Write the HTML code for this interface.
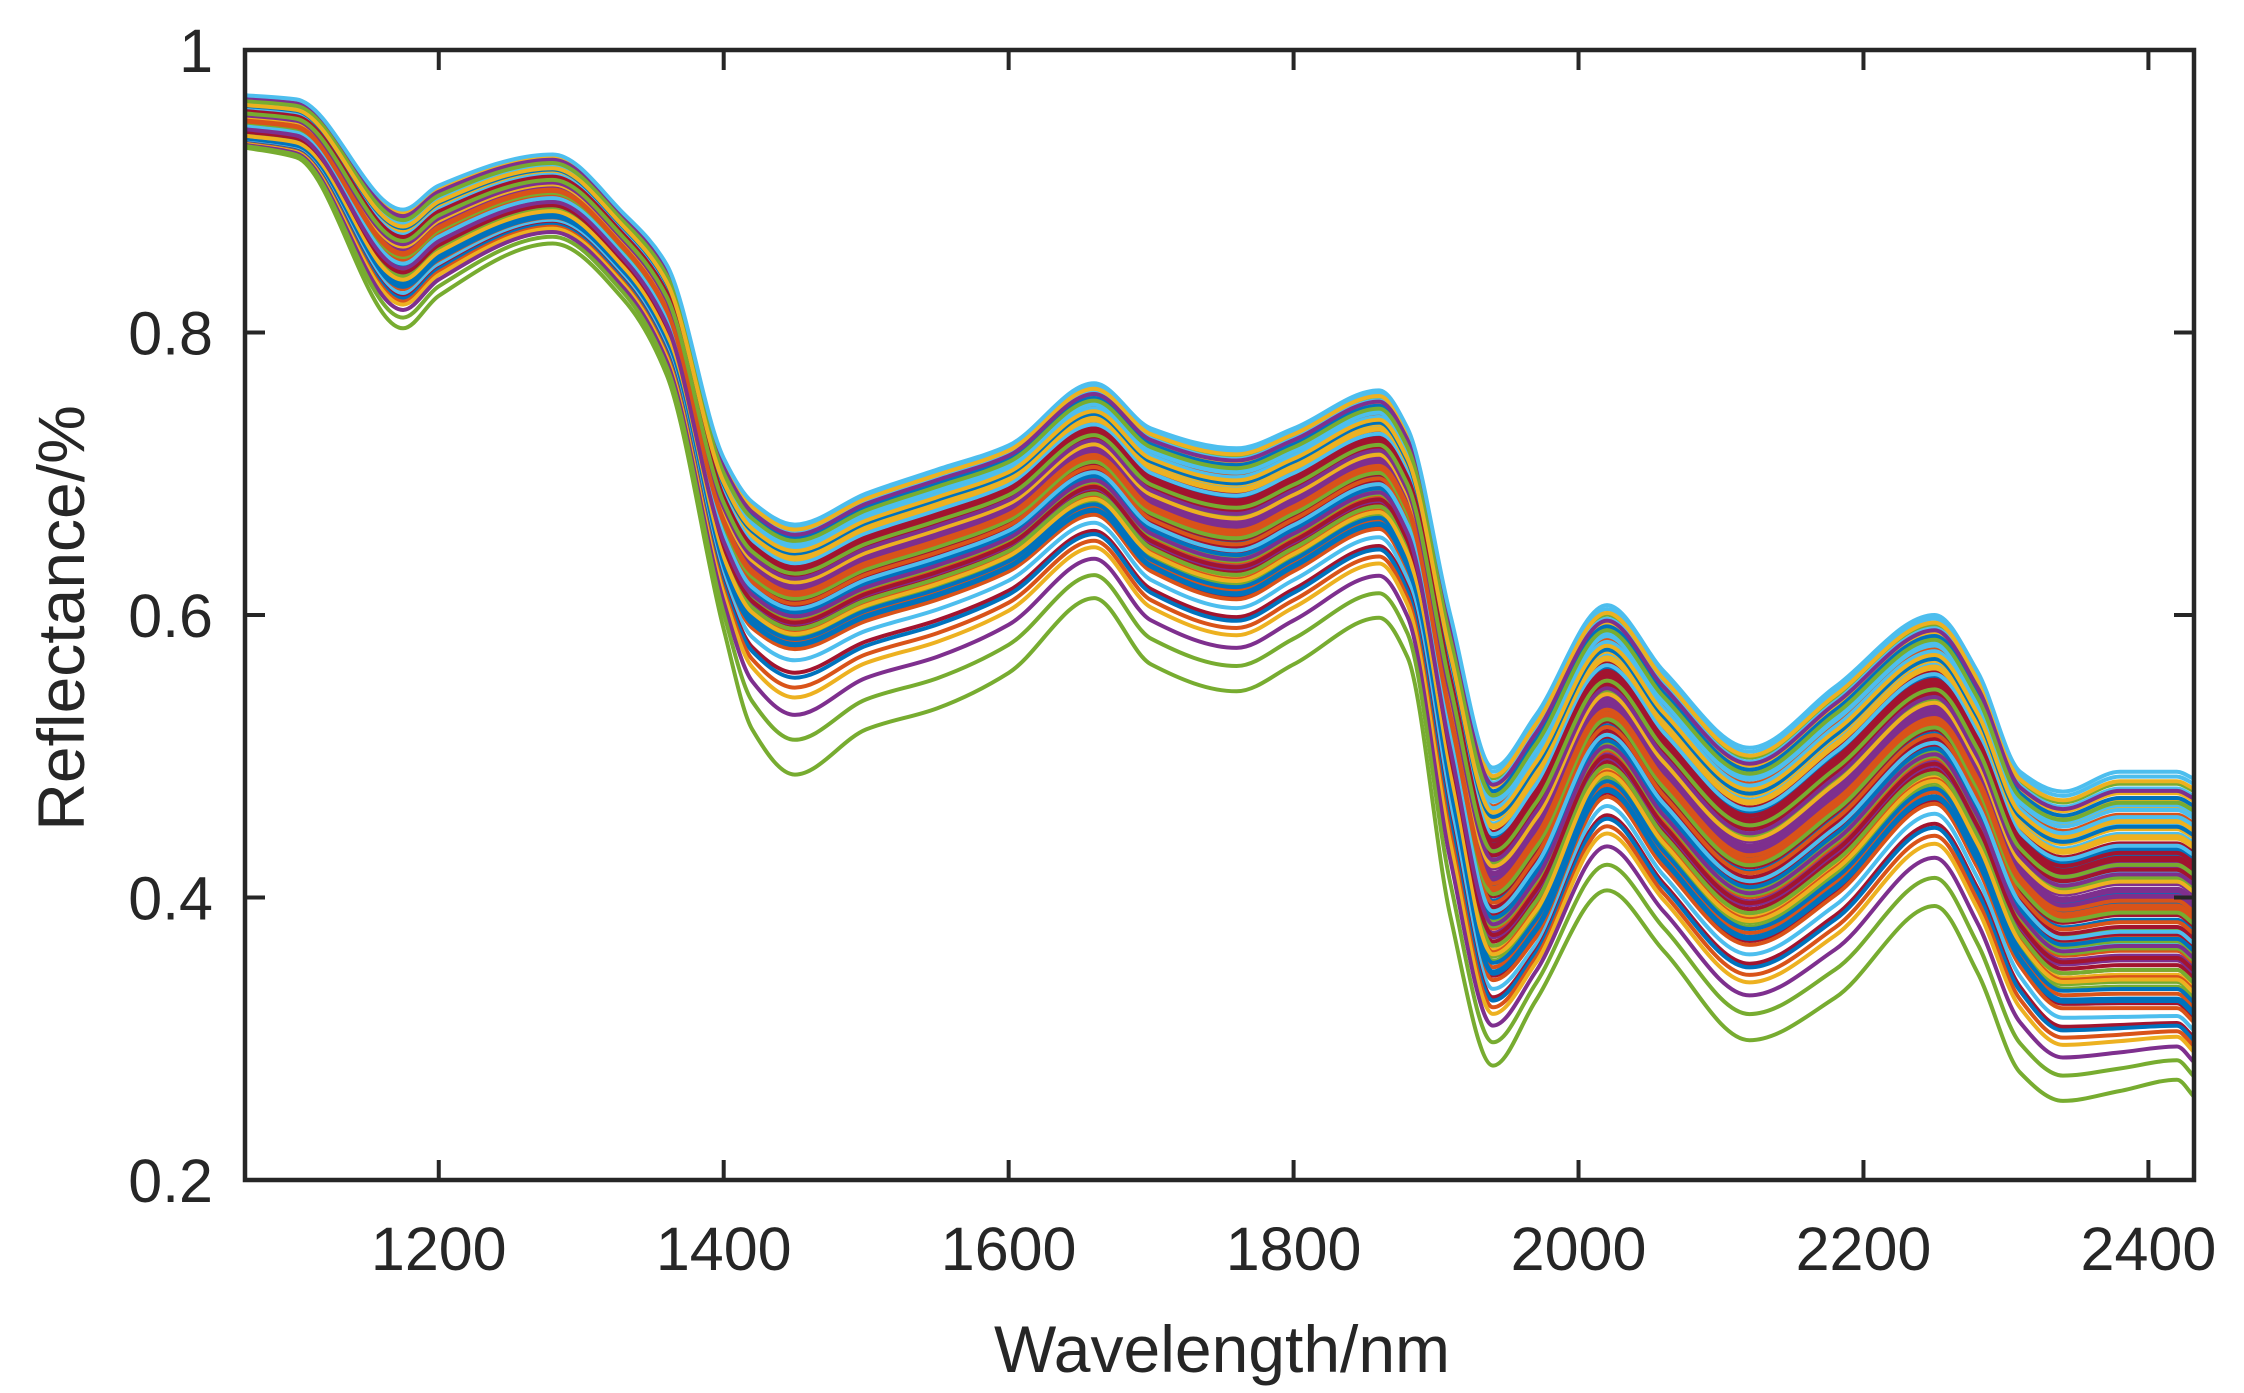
<!DOCTYPE html>
<html><head><meta charset="utf-8"><style>
html,body{margin:0;padding:0;background:#fff;}
svg{display:block;font-family:"Liberation Sans",Arial,sans-serif;}
</style></head><body>
<svg id="chart" width="2244" height="1393" viewBox="0 0 2244 1393">
<rect x="0" y="0" width="2244" height="1393" fill="#fff"/>
<g id="series"></g>
<g id="axes"></g>
<text x="1222" y="1372" font-size="66" fill="#262626" text-anchor="middle">Wavelength/nm</text>
<text transform="translate(84,618) rotate(-90)" font-size="66" fill="#262626" text-anchor="middle">Reflectance/%</text>
</svg>
<script>
const wavelengths=[1064,1100,1175,1200,1280,1330,1360,1400,1420,1450,1500,1550,1600,1660,1700,1760,1800,1860,1880,1910,1940,1970,2020,2060,2120,2180,2250,2280,2310,2340,2380,2420,2432];
const topCurve=[0.968,0.965,0.887,0.904,0.926,0.884,0.848,0.711,0.680,0.664,0.686,0.703,0.720,0.764,0.732,0.718,0.732,0.759,0.732,0.600,0.492,0.529,0.607,0.560,0.506,0.549,0.600,0.560,0.489,0.475,0.489,0.489,0.484];
const denseLowCurve=[0.935,0.930,0.830,0.850,0.880,0.840,0.790,0.630,0.590,0.575,0.595,0.610,0.630,0.670,0.630,0.610,0.630,0.660,0.630,0.470,0.340,0.370,0.470,0.420,0.365,0.400,0.465,0.420,0.350,0.320,0.320,0.320,0.310];
const bottomCurve=[0.931,0.924,0.803,0.826,0.863,0.823,0.770,0.590,0.519,0.487,0.519,0.534,0.559,0.612,0.565,0.546,0.565,0.598,0.570,0.387,0.281,0.327,0.405,0.362,0.299,0.329,0.394,0.347,0.276,0.256,0.263,0.271,0.259];
const seriesLevels=[0.62,0.18,0.85,0.40,0.05,0.72,0.30,0.55,0.93,0.12,0.47,0.66,0.22,0.81,0.35,0.58,0.09,0.77,0.44,0.26,0.97,0.51,0.69,0.15,0.38,0.88,0.02,0.60,0.32,0.75,0.20,0.53,0.90,0.42,0.65,0.11,0.83,0.28,0.49,0.71,0.07,0.36,0.95,0.57,0.24,0.79,0.45,0.14,0.68,0.33,0.86,0.04,0.52,0.74,0.19,0.41,0.91,0.63,0.27,0.50,0.83,0.16,0.37,0.70,0.99,0.46,0.08,0.59,0.31,0.78,0.23,0.54,0.87,0.43,0.13,0.67,0.34,0.96,0.56,0.21,0.73,0.39,1.08,1.18,1.22,1.30,1.38,1.52,1.72,2.0,0.0];
const colors=['#0072BD','#D95319','#EDB120','#7E2F8E','#77AC30','#4DBEEE','#A2142F'];
const yTicks=[0.2,0.4,0.6,0.8,1];
const yTickLabels=['0.2','0.4','0.6','0.8','1'];
const xTicks=[1200,1400,1600,1800,2000,2200,2400];
const xTickLabels=['1200','1400','1600','1800','2000','2200','2400'];

const L=245,R=2194,T=50,B=1180,xMin=1064,xMax=2432,yMin=0.2,yMax=1;
function sx(v){return L+(v-xMin)/(xMax-xMin)*(R-L);}
function sy(v){return B-(v-yMin)/(yMax-yMin)*(B-T);}
const NS='http://www.w3.org/2000/svg';
function curveValues(t){
  return wavelengths.map((w,i)=>{
    if(t<=1) return topCurve[i]+t*(denseLowCurve[i]-topCurve[i]);
    const u=t-1; return denseLowCurve[i]+u*(bottomCurve[i]-denseLowCurve[i]);
  });
}
// monotone cubic (Fritsch-Carlson) interpolation
function monotonePath(xs,ys){
  const n=xs.length,h=[],d=[],m=new Array(n);
  for(let i=0;i<n-1;i++){h[i]=xs[i+1]-xs[i];d[i]=(ys[i+1]-ys[i])/h[i];}
  m[0]=d[0];m[n-1]=d[n-2];
  for(let i=1;i<n-1;i++){
    if(d[i-1]*d[i]<=0)m[i]=0;
    else{const w1=2*h[i]+h[i-1],w2=h[i]+2*h[i-1];m[i]=(w1+w2)/(w1/d[i-1]+w2/d[i]);}
  }
  let s='M'+sx(xs[0]).toFixed(1)+','+sy(ys[0]).toFixed(1);
  for(let i=0;i<n-1;i++){
    const x0=xs[i],x1=xs[i+1],dx=(x1-x0)/3;
    const c1x=x0+dx,c1y=ys[i]+m[i]*dx,c2x=x1-dx,c2y=ys[i+1]-m[i+1]*dx;
    s+=' C'+sx(c1x).toFixed(1)+','+sy(c1y).toFixed(1)+' '+sx(c2x).toFixed(1)+','+sy(c2y).toFixed(1)+' '+sx(x1).toFixed(1)+','+sy(ys[i+1]).toFixed(1);
  }
  return s;
}
const sg=document.getElementById('series');
seriesLevels.forEach((t,k)=>{
  const vals=curveValues(t);
  const p=document.createElementNS(NS,'path');
  p.setAttribute('d',monotonePath(wavelengths,vals));
  p.setAttribute('fill','none');
  let c=colors[k%7];
  if(k===seriesLevels.length-1) c='#4DBEEE';
  if(t===2.0) c='#77AC30';
  p.setAttribute('stroke',c);
  p.setAttribute('stroke-width','4');
  p.setAttribute('stroke-linejoin','round');
  
  
  sg.appendChild(p);
});
const ag=document.getElementById('axes');
function add(tag,attrs,text){const e=document.createElementNS(NS,tag);for(const k in attrs)e.setAttribute(k,attrs[k]);if(text!==undefined)e.textContent=text;ag.appendChild(e);return e;}
const box=add('rect',{x:L,y:T,width:R-L,height:B-T,fill:'none',stroke:'#262626','stroke-width':4.5});


yTicks.forEach((v,i)=>{
  const y=sy(v);
  const t1=add('line',{x1:L,y1:y,x2:L+20,y2:y,stroke:'#262626','stroke-width':4});
  
  
  const t2=add('line',{x1:R,y1:y,x2:R-20,y2:y,stroke:'#262626','stroke-width':4});
  
  
  const lb=add('text',{x:213,y:y+22,'font-size':61,fill:'#262626','text-anchor':'end'},yTickLabels[i]);
  
  
});
xTicks.forEach((v,i)=>{
  const x=sx(v);
  const t1=add('line',{x1:x,y1:B,x2:x,y2:B-20,stroke:'#262626','stroke-width':4});
  
  
  const t2=add('line',{x1:x,y1:T,x2:x,y2:T+20,stroke:'#262626','stroke-width':4});
  
  
  const lb=add('text',{x:x,y:1270,'font-size':61,fill:'#262626','text-anchor':'middle'},xTickLabels[i]);
  
  
});
</script>
</body></html>
